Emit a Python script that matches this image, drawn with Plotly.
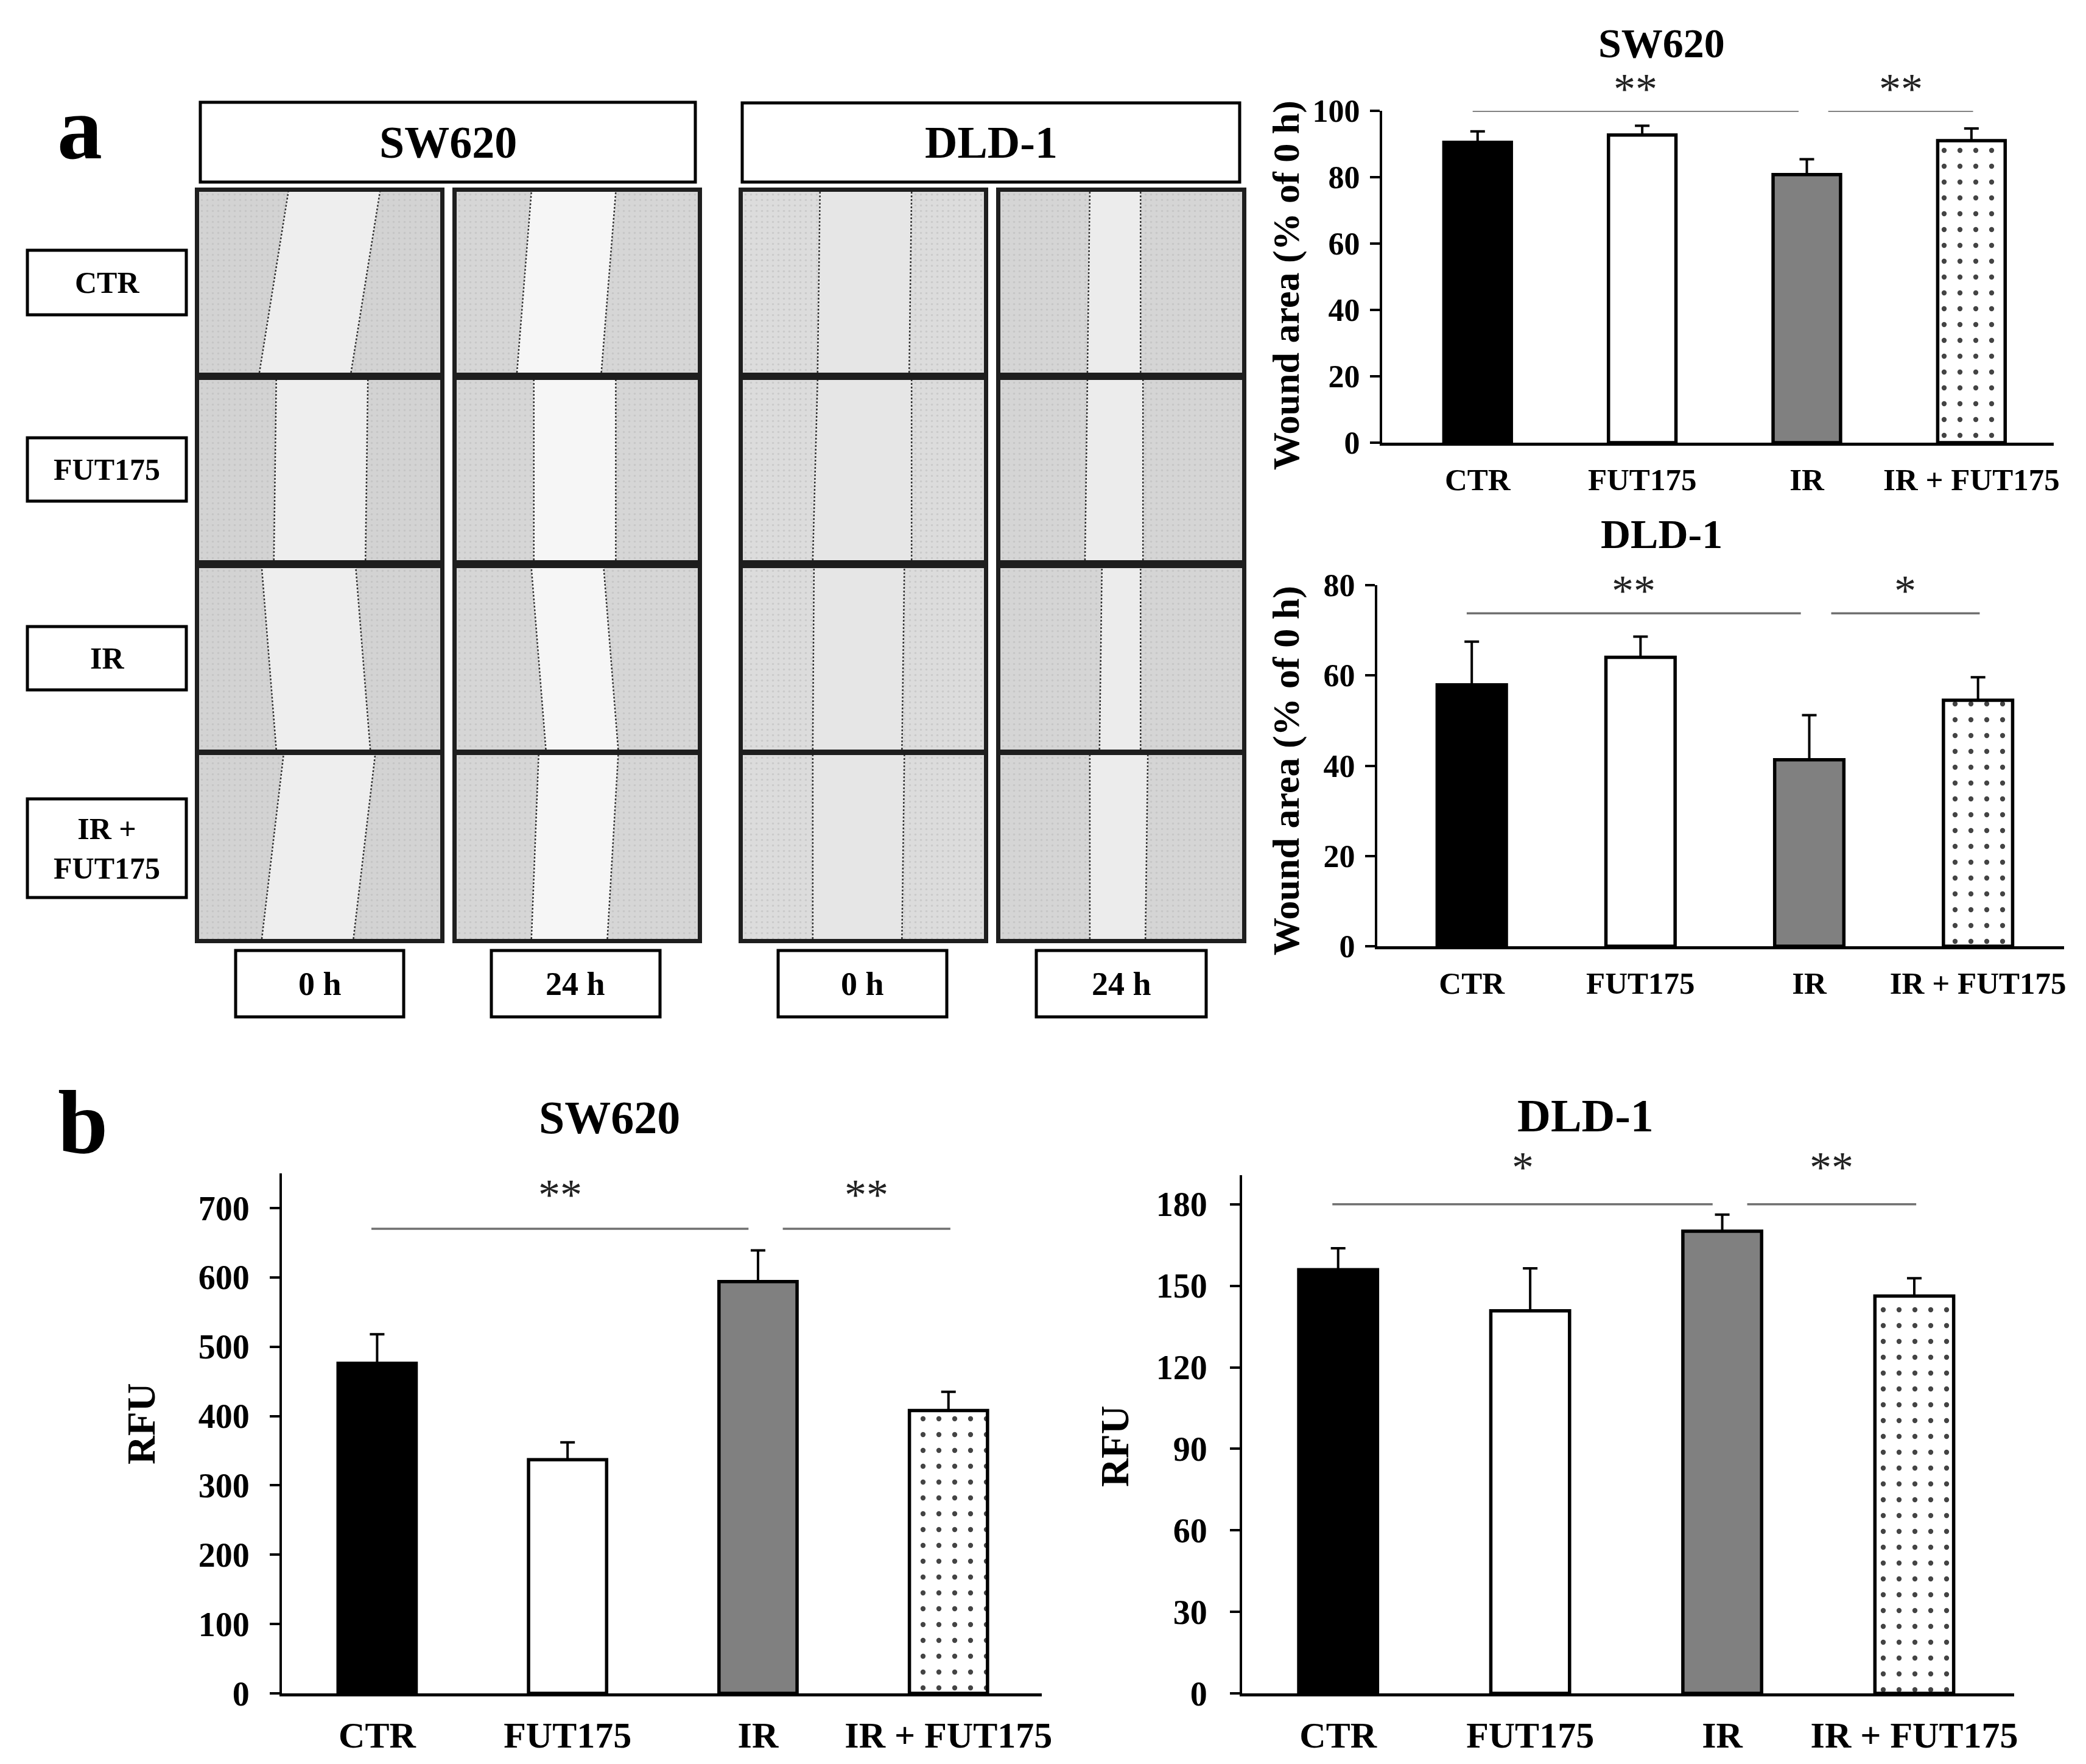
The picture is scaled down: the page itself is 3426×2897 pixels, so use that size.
import plotly.graph_objects as go

W, H = 3426, 2897
OFF = 8  # page body margin around the figure
FW, FH = W - 2 * OFF, H - 2 * OFF
FONT = "Liberation Serif"

# ---- data ----
categories = ["CTR", "FUT175", "IR", "IR + FUT175"]

wound_sw620 = [90.5, 92.7, 80.8, 91.0]
wound_sw620_err = [3.3, 2.8, 4.6, 3.7]
wound_dld1 = [57.9, 64.0, 41.3, 54.5]
wound_dld1_err = [9.6, 4.6, 9.9, 5.1]
rfu_sw620 = [476, 337, 594, 408]
rfu_sw620_err = [42, 25, 45, 27]
rfu_dld1 = [155.9, 140.8, 170.1, 146.2]
rfu_dld1_err = [7.9, 15.6, 6.1, 6.6]

# significance: CTR vs IR, IR vs IR + FUT175
comparisons = [("CTR", "IR"), ("IR", "IR + FUT175")]
sig_wound_sw620 = ["**", "**"]
sig_wound_dld1 = ["**", "*"]
sig_rfu_sw620 = ["**", "**"]
sig_rfu_dld1 = ["*", "**"]

cell_lines = ["SW620", "DLD-1"]
treatments = ["CTR", "FUT175", "IR", "IR +<br>FUT175"]
times = ["0 h", "24 h"]

# wound edges per photo (left top, left bottom, right top, right bottom), fraction of width
edges_sw620_0h = [(0.37, 0.25, 0.75, 0.63), (0.32, 0.31, 0.70, 0.69),
                  (0.26, 0.32, 0.65, 0.71), (0.35, 0.26, 0.73, 0.64)]
edges_sw620_24h = [(0.31, 0.25, 0.66, 0.60), (0.32, 0.32, 0.66, 0.66),
                   (0.31, 0.37, 0.61, 0.67), (0.34, 0.31, 0.67, 0.625)]
edges_dld1_0h = [(0.32, 0.31, 0.70, 0.69), (0.31, 0.29, 0.70, 0.70),
                 (0.295, 0.29, 0.67, 0.66), (0.29, 0.29, 0.67, 0.66)]
edges_dld1_24h = [(0.37, 0.36, 0.58, 0.58), (0.36, 0.35, 0.59, 0.59),
                  (0.42, 0.41, 0.58, 0.58), (0.37, 0.37, 0.61, 0.60)]


def px(x):
    return (x - OFF) / FW


def py(y):
    return 1 - (y - OFF) / FH


def text_note(x, y, text, size, weight="bold", angle=0, color="black"):
    return dict(x=px(x), y=py(y), xref="paper", yref="paper", text=text,
                showarrow=False, xanchor="center", yanchor="middle", textangle=angle,
                font=dict(family=FONT, size=size, color=color, weight=weight))


fig = go.Figure()

bar_colors = ["black", "white", "#808080", "white"]
bar_patterns = ["", "", "", "."]

charts = [
    dict(mean=wound_sw620, err=wound_sw620_err, sig=sig_wound_sw620, title="SW620",
         ytitle="Wound area (% of 0 h)", xpx=(2270, 3373), ypx=(182, 727),
         xr=[-0.58, 3.5], yr=[0, 100], dtick=20, bracket=100, star_shift=36,
         tick=52, cat=51, tsize=68, ysize=62, ystand=6, xstand=12,
         title_xy=(2729, 71), ytitle_xy=(2112, 469)),
    dict(mean=wound_dld1, err=wound_dld1_err, sig=sig_wound_dld1, title="DLD-1",
         ytitle="Wound area (% of 0 h)", xpx=(2262, 3390), ypx=(961, 1554),
         xr=[-0.56, 3.51], yr=[0, 80], dtick=20, bracket=73.75, star_shift=37,
         tick=52, cat=51, tsize=68, ysize=62, ystand=6, xstand=12,
         title_xy=(2729, 877), ytitle_xy=(2112, 1266)),
    dict(mean=rfu_sw620, err=rfu_sw620_err, sig=sig_rfu_sw620, title="SW620",
         ytitle="RFU", xpx=(463, 1711), ypx=(1927, 2781),
         xr=[-0.5, 3.49], yr=[0, 750], dtick=100, bracket=670, star_shift=56,
         tick=56, cat=60, tsize=76, ysize=65, ystand=22, xstand=12,
         title_xy=(1001, 1835), ytitle_xy=(232, 2338)),
    dict(mean=rfu_dld1, err=rfu_dld1_err, sig=sig_rfu_dld1, title="DLD-1",
         ytitle="RFU", xpx=(2040, 3308), ypx=(1930, 2781),
         xr=[-0.5, 3.52], yr=[0, 190.7], dtick=30, bracket=180, star_shift=61,
         tick=56, cat=60, tsize=76, ysize=65, ystand=26, xstand=12,
         title_xy=(2604, 1832), ytitle_xy=(1831, 2375)),
]

annotations = []
layout_axes = {}
idx = list(range(len(categories)))

for n, c in enumerate(charts, start=1):
    xa, ya = "x%d" % n, "y%d" % n
    fig.add_trace(go.Bar(
        x=idx, y=c["mean"], width=0.41, xaxis=xa, yaxis=ya,
        marker=dict(color=bar_colors, line=dict(color="black", width=5.5),
                    pattern=dict(shape=bar_patterns, fgcolor="black", bgcolor="white",
                                 fgopacity=1, size=26, solidity=0.08)),
        error_y=dict(type="data", array=c["err"], arrayminus=[0] * 4, symmetric=False,
                     color="black", thickness=4, width=12),
        showlegend=False, hoverinfo="skip"))

    # significance brackets
    offsets = [(-0.03, -0.05), (0.13, 0.01)]
    for (a, b), lab, (o1, o2) in zip(comparisons, c["sig"], offsets):
        x0 = categories.index(a) + o1
        x1 = categories.index(b) + o2
        fig.add_trace(go.Scatter(x=[x0, x1], y=[c["bracket"]] * 2, mode="lines",
                                 line=dict(color="#707070", width=3.5),
                                 xaxis=xa, yaxis=ya, showlegend=False, hoverinfo="skip"))
        annotations.append(dict(x=(x0 + x1) / 2, y=c["bracket"], xref=xa, yref=ya,
                                text=lab, showarrow=False, xanchor="center",
                                yanchor="middle", yshift=c["star_shift"],
                                font=dict(family=FONT, size=72, color="#222")))

    layout_axes["xaxis%d" % n] = dict(
        domain=[px(c["xpx"][0]), px(c["xpx"][1])], anchor=ya, range=c["xr"],
        tickvals=idx, ticktext=categories, ticks="", showline=True, linewidth=5,
        linecolor="black", showgrid=False, zeroline=False, ticklabelstandoff=c["xstand"],
        automargin=False,
        tickfont=dict(family=FONT, size=c["cat"], color="black", weight="bold"))
    layout_axes["yaxis%d" % n] = dict(
        domain=[py(c["ypx"][1]), py(c["ypx"][0])], anchor=xa, range=c["yr"],
        dtick=c["dtick"], tick0=0, ticks="outside", ticklen=16, tickwidth=4,
        tickcolor="black", showline=True, linewidth=4, linecolor="black",
        showgrid=False, zeroline=False, ticklabelstandoff=c["ystand"], automargin=False,
        tickfont=dict(family=FONT, size=c["tick"], color="black", weight="bold"))

    annotations.append(text_note(*c["title_xy"], c["title"], c["tsize"]))
    annotations.append(text_note(*c["ytitle_xy"], c["ytitle"], c["ysize"], angle=-90))

# ---- scratch-assay photos ----
col_px = [(327, 723), (750, 1146), (1220, 1616), (1643, 2040)]
row_px = [(315, 612), (624, 920), (933, 1231), (1240, 1542)]
photo_sets = [edges_sw620_0h, edges_sw620_24h, edges_dld1_0h, edges_dld1_24h]
cell_fill = ["#d3d3d3", "#d6d6d6", "#dcdcdc", "#d5d5d5"]
wound_fill = ["#eeeeee", "#f6f6f6", "#e6e6e6", "#ececec"]

k = 5
for ci, edges in enumerate(photo_sets):
    for ri, (lt, lb, rt, rb) in enumerate(edges):
        xa, ya = "x%d" % k, "y%d" % k
        regions = [([0, lb, lt, 0, 0], [0, 0, 1, 1, 0], True),
                   ([rb, 1, 1, rt, rb], [0, 0, 1, 1, 0], True),
                   ([lb, rb, rt, lt, lb], [0, 0, 1, 1, 0], False)]
        for xs, ys, is_cells in regions:
            col = cell_fill[ci] if is_cells else wound_fill[ci]
            fig.add_trace(go.Scatter(
                x=xs, y=ys, mode="lines", fill="toself", fillcolor=col,
                line=dict(width=0), xaxis=xa, yaxis=ya,
                fillpattern=dict(shape=".", fgcolor="#b8b8b8", bgcolor=col, size=9,
                                 solidity=0.12) if is_cells else None,
                showlegend=False, hoverinfo="skip"))
        for xs in ([lb, lt], [rb, rt]):
            fig.add_trace(go.Scatter(x=xs, y=[0, 1], mode="lines",
                                     line=dict(color="#333333", width=2.5, dash="dot"),
                                     xaxis=xa, yaxis=ya, showlegend=False, hoverinfo="skip"))
        frame = dict(range=[0, 1], showline=True, mirror=True, linewidth=7,
                     linecolor="#1e1e1e", showticklabels=False, ticks="", showgrid=False,
                     zeroline=False, automargin=False)
        layout_axes["xaxis%d" % k] = dict(frame, domain=[px(col_px[ci][0]), px(col_px[ci][1])],
                                          anchor=ya)
        layout_axes["yaxis%d" % k] = dict(frame, domain=[py(row_px[ri][1]), py(row_px[ri][0])],
                                          anchor=xa)
        k += 1

# ---- label boxes ----
shapes = []


def label_box(x0, y0, x1, y1, text, size):
    shapes.append(dict(type="rect", xref="paper", yref="paper", x0=px(x0), x1=px(x1),
                       y0=py(y1), y1=py(y0), line=dict(color="black", width=5),
                       fillcolor="white", layer="below"))
    annotations.append(text_note((x0 + x1) / 2, (y0 + y1) / 2, text, size))


label_box(329, 168, 1142, 299, cell_lines[0], 74)
label_box(1219, 169, 2036, 299, cell_lines[1], 74)
row_box_px = [(411, 517), (719, 823), (1029, 1133), (1312, 1474)]
for (y0, y1), t in zip(row_box_px, treatments):
    label_box(45, y0, 306, y1, t, 50)
time_box_px = [(387, 663), (807, 1084), (1278, 1555), (1702, 1981)]
for (x0, x1), t in zip(time_box_px, times * 2):
    label_box(x0, 1561, x1, 1670, t, 54)

annotations.append(text_note(131, 210, "a", 148))
annotations.append(text_note(136, 1843, "b", 148))

fig.update_layout(width=FW, height=FH,
                  margin=dict(l=0, r=0, t=0, b=0, pad=0, autoexpand=False),
                  paper_bgcolor="white", plot_bgcolor="rgba(0,0,0,0)",
                  showlegend=False, annotations=annotations, shapes=shapes,
                  **layout_axes)

fig.write_html("out.html")
